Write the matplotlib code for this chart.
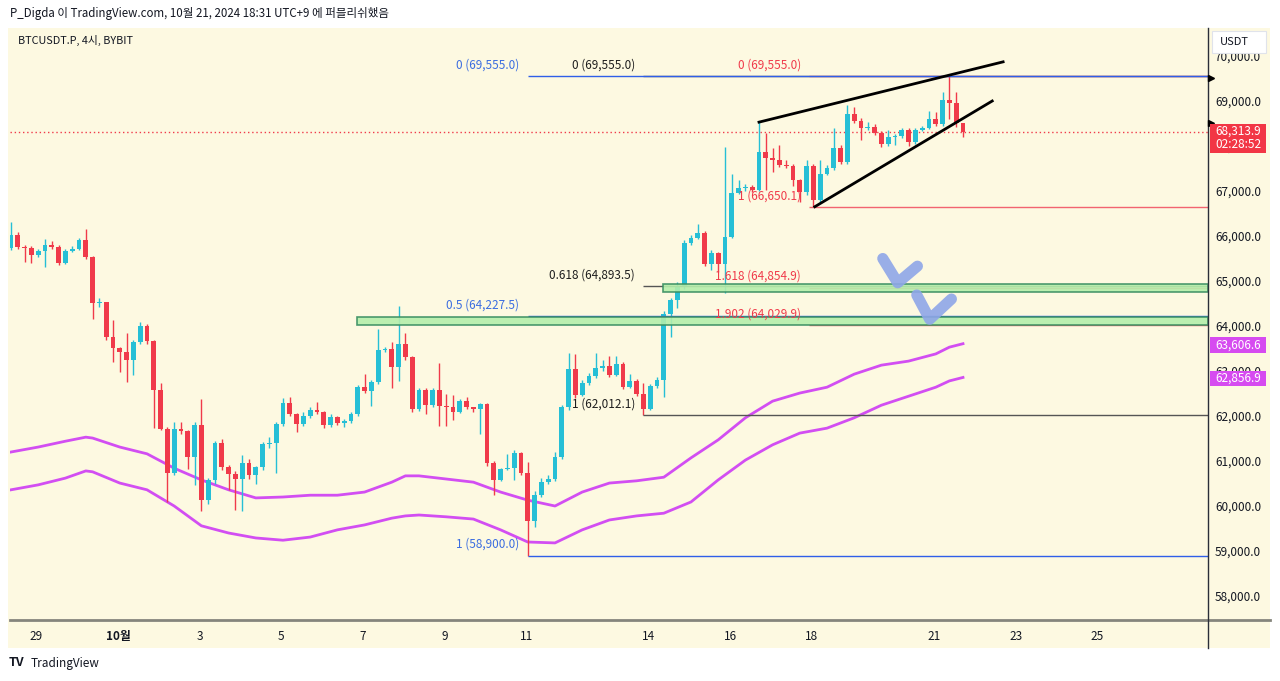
import numpy as np
import matplotlib.pyplot as plt
from matplotlib.patches import Rectangle
from matplotlib.lines import Line2D

plt.rcParams['font.family'] = ['Noto Sans CJK KR', 'DejaVu Sans']

W, H = 1280, 681
BG = '#fdf9e1'
UP = '#26bfd6'
DOWN = '#f03a4a'
TXT = '#131722'

# 4h candles, BTCUSDT.P (BYBIT), first candle 28 Sep 09:00 KST
first_open = 65730
closes = [66020, 65760, 65730, 65580, 65670, 65800, 65760, 65400, 65670, 65710,
          65910, 65530, 64510, 64530, 63760, 63510, 63420, 63240, 63640, 64000,
          63670, 62580, 61710, 60730, 61710, 61670, 61090, 61800, 60130, 60580,
          61400, 60870, 60710, 60600, 60960, 60690, 60870, 61380, 61400, 61820,
          62290, 62040, 61820, 62000, 62130, 62090, 61800, 61980, 61840, 61890,
          62040, 62640, 62560, 62760, 63470, 63490, 63090, 63600, 63310, 62160,
          62580, 62240, 62580, 62220, 62200, 62090, 62330, 62200, 62160, 62270,
          60960, 60580, 60820, 60840, 61180, 60730, 59670, 60240, 60530, 60600,
          61090, 62200, 63040, 62470, 62730, 62890, 63070, 63110, 62910, 63160,
          62640, 62780, 62490, 62160, 62670, 62800, 64270, 64580, 64870, 65840,
          65960, 66070, 65380, 65620, 65380, 65980, 66960, 67070, 67090, 67020,
          67870, 67730, 67690, 67580, 67560, 67240, 66980, 67560, 66800, 67380,
          67510, 67960, 67640, 68710, 68560, 68400, 68420, 68290, 68040, 68200,
          68220, 68360, 68090, 68360, 68400, 68600, 68490, 69020, 68960, 68510,
          68313.9]
highs = [66310, 66090, 65800, 65780, 65720, 65930, 65880, 65800, 65700, 65780,
         65960, 66160, 65550, 64620, 64540, 64130, 63540, 63840, 63680, 64080,
         64050, 63700, 62730, 61760, 61870, 61870, 61700, 61870, 62380, 60620,
         61450, 61500, 60920, 60780, 61130, 61040, 60900, 61420, 61530, 61870,
         62400, 62430, 62070, 62090, 62200, 62310, 62110, 62050, 62000, 61940,
         62090, 62680, 62930, 62800, 63930, 63540, 63650, 64440, 63840, 63330,
         62620, 62620, 62620, 63180, 62500, 62470, 62380, 62420, 62200, 62300,
         62290, 60990, 60850, 61160, 61240, 61200, 60980, 60330, 60620, 60690,
         61200, 62250, 63400, 63380, 62800, 62960, 63400, 63250, 63330, 63330,
         63200, 62930, 62820, 62740, 62710, 62860, 64330, 64620, 64980, 65900,
         66020, 66260, 66100, 65690, 65640, 67980, 67380, 67240, 67150, 67130,
         68530, 68290, 67960, 68020, 67690, 67600, 67270, 67690, 67600, 67690,
         67580, 68400, 68020, 68910, 68870, 68620, 68530, 68490, 68330, 68360,
         68270, 68400, 68400, 68400, 68450, 68780, 68760, 69200, 69555, 69200,
         68510]
lows = [65690, 65700, 65420, 65400, 65540, 65310, 65720, 65350, 65380, 65640,
        65690, 65480, 64160, 64420, 63700, 63200, 62980, 62760, 62910, 63600,
        63600, 61730, 61690, 60090, 60700, 61600, 60820, 60470, 59890, 60040,
        60500, 60800, 60350, 59910, 59890, 60600, 60500, 60800, 61290, 60730,
        61780, 62000, 61640, 61780, 61960, 62050, 61730, 61750, 61800, 61760,
        61850, 62000, 62520, 62220, 62720, 63420, 62620, 62780, 63250, 62090,
        62110, 62040, 62200, 61780, 61780, 61910, 62060, 62150, 62090, 61600,
        60900, 60240, 60550, 60800, 60580, 60690, 58900, 59530, 60200, 60490,
        60560, 61050, 62130, 62400, 62440, 62700, 62850, 63000, 62870, 62880,
        62600, 62620, 62450, 62012.1, 62130, 62620, 62420, 63760, 64400, 64820,
        65800, 65930, 65330, 65240, 65200, 64730, 65950, 66930, 67000, 66980,
        66990, 67020, 67420, 67530, 67510, 67110, 66760, 66900, 66650.1, 66760,
        67350, 67460, 67600, 67600, 68520, 68130, 68360, 68240, 67980, 68000,
        68020, 68180, 68000, 68050, 68330, 68380, 68450, 68440, 68600, 68420,
        68200]

# two moving-average bands (candle index -> value)
ma_idx = [0, 4, 8, 11, 12, 16, 20, 24, 28, 32, 36, 40, 44, 48, 52, 56, 58, 60, 64, 68,
          72, 76, 80, 84, 88, 92, 96, 100, 104, 108, 112, 116, 120, 124, 128, 132, 136, 138, 140]
ma_upper = [61200, 61310, 61440, 61530, 61510, 61310, 61160, 60840, 60580, 60360,
            60180, 60200, 60240, 60240, 60310, 60530, 60670, 60670, 60600, 60530,
            60310, 60130, 60000, 60310, 60510, 60560, 60640, 61070, 61470, 61960,
            62330, 62510, 62640, 62930, 63130, 63220, 63380, 63530, 63606.6]
ma_lower = [60360, 60470, 60620, 60780, 60760, 60510, 60360, 60000, 59560, 59400,
            59290, 59240, 59310, 59470, 59580, 59730, 59780, 59800, 59760, 59710,
            59470, 59200, 59180, 59470, 59690, 59780, 59840, 60090, 60580, 61020,
            61360, 61620, 61730, 61960, 62240, 62440, 62640, 62780, 62856.9]

# date axis: days relative to 1 Oct
tick_days = [-2, 0, 2, 4, 6, 8, 10, 13, 15, 17, 20, 22, 24]
tick_labels = ['29', '10월', '3', '5', '7', '9', '11', '14', '16', '18', '21', '23', '25']
price_ticks = [58000, 59000, 60000, 61000, 62000, 63000, 64000, 65000, 66000, 67000, 68000, 69000, 70000]

# drawings
fib_blue = [('0', 69555.0), ('0.5', 64227.5), ('1', 58900.0)]
fib_black = [('0', 69555.0), ('0.618', 64893.5), ('1', 62012.1)]
fib_red = [('0', 69555.0), ('1', 66650.1), ('1.618', 64854.9), ('1.902', 64029.9)]
fib_start = {'blue': 76, 'black': 93, 'red': 117.4}
zones = [(50.9, 64030, 64210), (95.9, 64750, 64930)]
wedge_upper = ([110, 145.9], [68530, 69870])
wedge_lower = ([118.2, 144.3], [66650, 69000])
check_1 = ([128.2, 130.4, 133.3], [65500, 64960, 65330])
check_2 = ([133.2, 135.1, 138.3], [64690, 64150, 64600])
last_price = 68313.9

x_left, x_right = -0.147, 176.03
y_low, y_high = 57467, 70622


def fx(x):
    return x / W


def fy(y):
    return 1 - y / H


fig = plt.figure(figsize=(12.8, 6.81), dpi=100, facecolor='white')
fig.add_artist(Rectangle((fx(8), fy(648)), fx(1270) - fx(8), fy(28) - fy(648),
                         transform=fig.transFigure, facecolor=BG, edgecolor='none', zorder=-5))

ax = fig.add_axes([fx(10), fy(620), 1198 / W, 592 / H], facecolor=BG)
for s in ax.spines.values():
    s.set_visible(False)

# candles
c = np.array(closes, dtype=float)
o = np.array([first_open] + closes[:-1], dtype=float)
x = np.arange(len(c))
cols = np.where(c >= o, UP, DOWN)
ax.vlines(x, lows, highs, colors=cols, lw=1, zorder=3)
body_lo = np.minimum(o, c)
body_h = np.maximum(np.abs(c - o), 25)
ax.bar(x, body_h, bottom=body_lo, width=0.68, color=cols, linewidth=0, zorder=3.1)

# moving averages
ax.plot(ma_idx, ma_upper, color='#d24ef2', lw=2, zorder=2.5)
ax.plot(ma_idx, ma_lower, color='#d24ef2', lw=2, zorder=2.5)

# current price line
ax.axhline(last_price, color=DOWN, lw=1, ls=(0, (1, 2)), zorder=2)

# fib levels (blue one drawn on top)
for name, levels, col, lcol, z in [('black', fib_black, '#1e1e1e', '#555555', 3.5),
                                   ('red', fib_red, '#f03a4a', '#f26470', 3.6),
                                   ('blue', fib_blue, '#3b6de0', '#2f5fe8', 3.7)]:
    start = fib_start[name]
    for lab, lvl in levels:
        ax.hlines(lvl, start, x_right, color=lcol, lw=1, zorder=z)
        ax.annotate(f'{lab} ({lvl:,.1f})', xy=(start, lvl), xytext=(-6, 8),
                    textcoords='offset points', ha='right', va='center',
                    fontsize=8.5, color=col, zorder=6)

# zones
for x0, lo, hi in zones:
    ax.add_patch(Rectangle((x0, lo), x_right - x0, hi - lo, facecolor='#b4eeab', alpha=0.9,
                           edgecolor='#3a8f62', lw=1.2, zorder=4))

# wedge
ax.plot(*wedge_upper, color='black', lw=2, zorder=5)
ax.plot(*wedge_lower, color='black', lw=2, zorder=5)

# hand-drawn checks
for cx, cy in (check_1, check_2):
    ax.plot(cx, cy, color='#8ea6e8', lw=8, alpha=0.9, solid_capstyle='round',
            solid_joinstyle='round', zorder=6)

ax.set_xlim(x_left, x_right)
ax.set_ylim(y_low, y_high)

ax.set_xticks([15.75 + 6 * d for d in tick_days], tick_labels)
ax.tick_params(axis='x', length=0, pad=7, labelsize=8.5, colors=TXT)
for t in ax.get_xticklabels():
    if t.get_text() == '10월':
        t.set_fontweight('bold')

ax.yaxis.tick_right()
ax.set_yticks(price_ticks, [f'{v:,.1f}' for v in price_ticks])
ax.tick_params(axis='y', length=0, pad=5, labelsize=8.5, colors=TXT)

# frame lines
fig.add_artist(Line2D([fx(10), fx(1270)], [fy(620), fy(620)], color='#85857c', lw=2))
fig.add_artist(Line2D([fx(1208), fx(1208)], [fy(28), fy(648)], color='#2a2e39', lw=1))


# price scale labels
def px_box(x0, y0, x1, y1, fc, ec='none'):
    fig.add_artist(Rectangle((fx(x0), fy(y1)), fx(x1) - fx(x0), fy(y0) - fy(y1),
                             transform=fig.transFigure, facecolor=fc, edgecolor=ec, lw=0.8, zorder=5))


px_box(1212, 31, 1266, 53, 'white', '#e0e3eb')
fig.text(fx(1234), fy(42), 'USDT', ha='center', va='center', fontsize=8, color=TXT, zorder=6)
px_box(1210, 124, 1266, 153, '#f23645')
fig.text(fx(1238), fy(131.5), f'{last_price:,.1f}', ha='center', va='center', fontsize=8.5,
         color='white', zorder=6)
fig.text(fx(1238), fy(145), '02:28:52', ha='center', va='center', fontsize=8.5, color='white', zorder=6)
for val, yc in [(ma_upper[-1], 345), (ma_lower[-1], 378)]:
    px_box(1210, yc - 7.5, 1266, yc + 7.5, '#d64bf0')
    fig.text(fx(1238), fy(yc), f'{val:,.1f}', ha='center', va='center', fontsize=8.5,
             color='white', zorder=6)
for yc in (78, 123):
    fig.add_artist(Line2D([fx(1211)], [fy(yc)], marker='>', markersize=5, color='black', lw=0))

# header / footer
fig.text(fx(10), fy(13), 'P_Digda 이 TradingView.com, 10월 21, 2024 18:31 UTC+9 에 퍼블리쉬했음',
         ha='left', va='center', fontsize=8.3, color=TXT)
fig.text(fx(18), fy(40), 'BTCUSDT.P, 4시, BYBIT', ha='left', va='center', fontsize=7.8, color=TXT)
fig.text(fx(9), fy(663), 'TV', ha='left', va='center', fontsize=9, fontweight='heavy', color=TXT)
fig.text(fx(31), fy(663), 'TradingView', ha='left', va='center', fontsize=8.5, color=TXT)

fig.savefig('out.png', dpi=100, facecolor='white')
